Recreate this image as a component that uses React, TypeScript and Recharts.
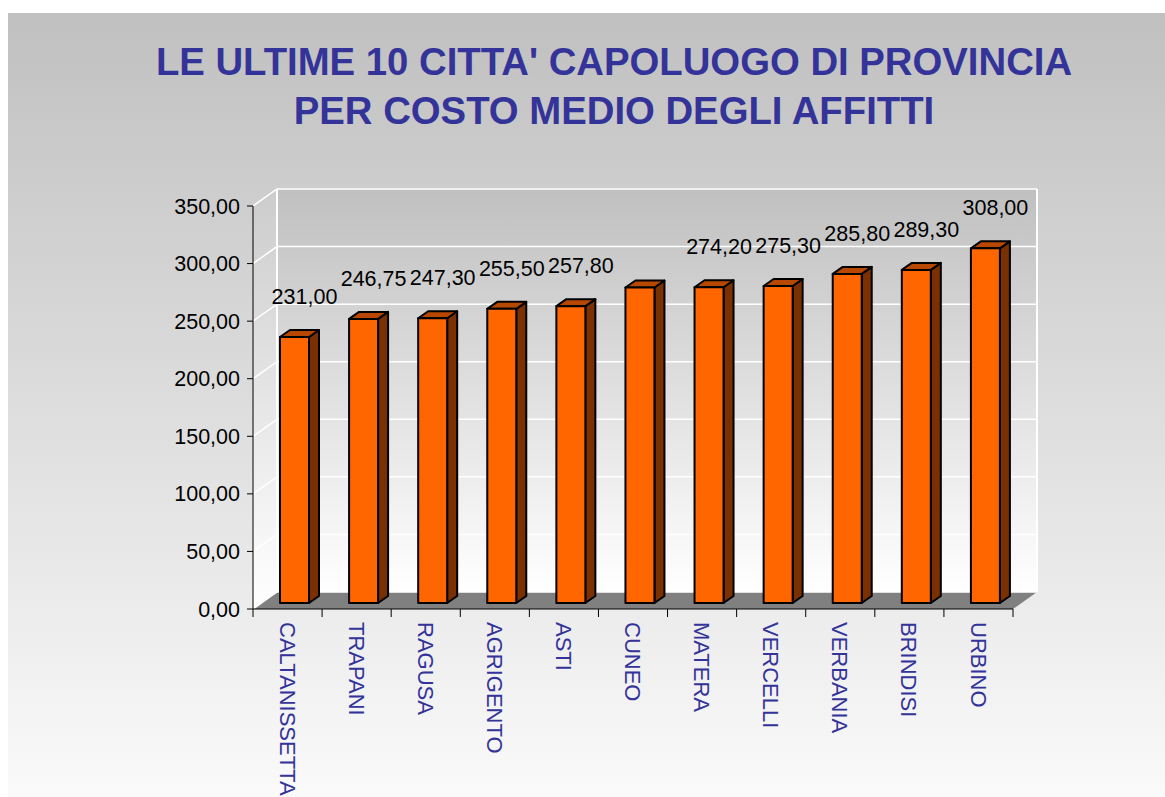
import React from "react";
import { Bar, BarChart, CartesianGrid, ReferenceArea, XAxis, YAxis } from "recharts";

const cities = ["CALTANISSETTA", "TRAPANI", "RAGUSA", "AGRIGENTO", "ASTI", "CUNEO", "MATERA", "VERCELLI", "VERBANIA", "BRINDISI", "URBINO"];
const rentCosts = [231, 246.75, 247.3, 255.5, 257.8, 274.0, 274.2, 275.3, 285.8, 289.3, 308];
const yTicks = [0, 50, 100, 150, 200, 250, 300, 350];
const unlabeledCities = ["CUNEO"];

const titleLines = ["LE ULTIME 10 CITTA' CAPOLUOGO DI PROVINCIA", "PER COSTO MEDIO DEGLI AFFITTI"];

const FONT = "'Liberation Sans', Arial, sans-serif";
const W = 1157;
const H = 784;
const PLOT_W = 760;
// depth of the 3d room
const DX = 24;
const DY = -17;

const fmt = (v: number) => v.toFixed(2).replace(".", ",");

const chartData = cities.map((city, i) => ({ city, cost: rentCosts[i] }));

function Room(props: any) {
  const { x, y, width: w, height: h } = props;
  return (
    <g>
      <defs>
        <linearGradient id="wallGrad" x1="0" y1="0" x2="0" y2="1">
          <stop offset="0%" stopColor="#c0c0c0" />
          <stop offset="100%" stopColor="#ffffff" />
        </linearGradient>
        <linearGradient id="sideGrad" x1="0" y1="0" x2="0" y2="1">
          <stop offset="0%" stopColor="#cccccc" />
          <stop offset="100%" stopColor="#ffffff" />
        </linearGradient>
      </defs>
      <rect x={x + DX} y={y + DY} width={w} height={h} fill="url(#wallGrad)" />
      <polygon
        points={`${x},${y} ${x + DX},${y + DY} ${x + DX},${y + h + DY} ${x},${y + h}`}
        fill="url(#sideGrad)"
      />
      <line x1={x + DX} y1={y + DY} x2={x + DX} y2={y + h + DY} stroke="#fff" strokeWidth={2} />
      <line x1={x + w + DX} y1={y + DY} x2={x + w + DX} y2={y + h + DY} stroke="#fff" strokeWidth={2} />
      <polygon
        points={`${x},${y + h} ${x + DX},${y + h + DY} ${x + w + DX},${y + h + DY} ${x + w},${y + h}`}
        fill="#808080"
      />
    </g>
  );
}

function GridLine(props: any) {
  const { x1, y1, x2, y2 } = props;
  return (
    <polyline
      key={props.key}
      points={`${x1},${y1} ${x1 + DX},${y1 + DY} ${x2 + DX},${y2 + DY}`}
      fill="none"
      stroke="#fff"
      strokeWidth={1.5}
    />
  );
}

function Box3D(props: any) {
  const { x, y, width, height, payload } = props;
  const fx = x + 7;
  const fy = y - 6;
  const d = 10;
  const r = 7;
  const showLabel = payload && !unlabeledCities.includes(payload.city);
  return (
    <g>
      <g stroke="#000" strokeWidth={2} strokeLinejoin="round">
        <polygon
          points={`${fx + width},${fy} ${fx + width + d},${fy - r} ${fx + width + d},${fy + height - r} ${fx + width},${fy + height}`}
          fill="#7a3000"
        />
        <polygon
          points={`${fx},${fy} ${fx + d},${fy - r} ${fx + width + d},${fy - r} ${fx + width},${fy}`}
          fill="#b84800"
        />
        <rect x={fx} y={fy} width={width} height={height} fill="#ff6600" />
      </g>
      {showLabel && (
        <text x={fx + width / 2 + 10} y={fy - 33} textAnchor="middle" fontSize={21.5} fontFamily={FONT} fill="#000">
          {fmt(payload.cost)}
        </text>
      )}
    </g>
  );
}

function CityTick(props: any) {
  const { x, y, payload, index } = props;
  const band = PLOT_W / cities.length;
  return (
    <g>
      <line x1={x - band / 2} y1={y} x2={x - band / 2} y2={y + 8} stroke="#000" />
      {index === cities.length - 1 && <line x1={x + band / 2} y1={y} x2={x + band / 2} y2={y + 8} stroke="#000" />}
      <g transform={`translate(${x},${y + 13}) rotate(90)`}>
        <text x={0} y={0} dy="0.36em" textAnchor="start" fontSize={22} fontFamily={FONT} fill="#333399">
          {payload.value}
        </text>
      </g>
    </g>
  );
}

export default function App() {
  return (
    <>
      <style>{`body{margin:0;overflow:hidden}`}</style>
      <div
        style={{
          position: "absolute",
          left: 8,
          top: 13,
          width: W,
          height: H,
          overflow: "hidden",
          background: "linear-gradient(#c0c0c0, #fafafa)",
          fontFamily: FONT,
        }}
      >
        <div
          style={{
            position: "absolute",
            left: 106,
            top: 24,
            width: 1000,
            textAlign: "center",
            color: "#333399",
            fontWeight: "bold",
            fontSize: 38.3,
            lineHeight: "49px",
            zIndex: 2,
          }}
        >
          {titleLines.map((t) => (
            <div key={t}>{t}</div>
          ))}
        </div>
        <div style={{ position: "absolute", left: 0, top: 0 }}>
          <BarChart width={W} height={H} data={chartData} margin={{ top: 193, right: 152, bottom: 8, left: 165 }}>
            <ReferenceArea y1={0} y2={350} shape={<Room />} fill="none" stroke="none" zIndex={-200} />
            <CartesianGrid vertical={false} horizontal={(p: any) => <GridLine {...p} />} />
            <YAxis
              type="number"
              domain={[0, 350]}
              ticks={yTicks}
              width={80}
              tickFormatter={fmt}
              axisLine={{ stroke: "#000" }}
              tickLine={{ stroke: "#000" }}
              tickSize={6}
              tickMargin={7}
              tick={{ fill: "#000", fontSize: 21.5, fontFamily: FONT }}
              interval={0}
            />
            <XAxis
              dataKey="city"
              height={180}
              axisLine={{ stroke: "#000" }}
              tickLine={false}
              tickSize={0}
              tickMargin={0}
              interval={0}
              tick={<CityTick />}
            />
            <Bar dataKey="cost" barSize={29} shape={<Box3D />} isAnimationActive={false} />
          </BarChart>
        </div>
      </div>
    </>
  );
}
